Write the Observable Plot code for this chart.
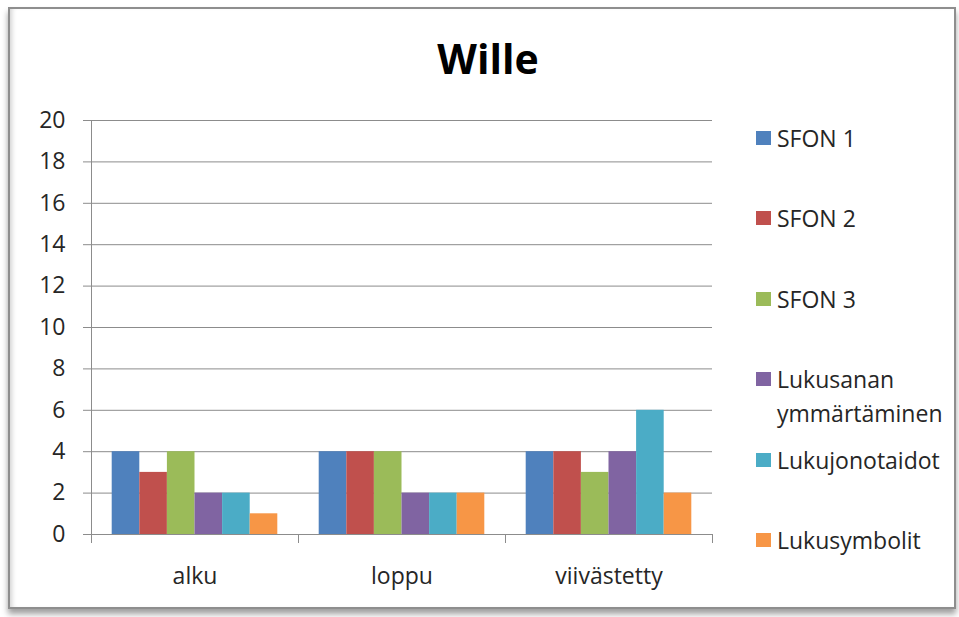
<!DOCTYPE html>
<html>
<head>
<meta charset="utf-8">
<script src="https://cdn.jsdelivr.net/npm/d3@7"></script>
<script src="https://cdn.jsdelivr.net/npm/@observablehq/plot@0.6"></script>
<style>
  html, body { margin: 0; padding: 0; background: #fff; }
  #page { position: relative; width: 959px; height: 617px; overflow: hidden; font-family: "Open Sans", sans-serif; }
  #frame {
    position: absolute; left: 8px; top: 7px; width: 944px; height: 598px;
    border: 2px solid #8e8e8e; background: #fff;
    box-shadow: 0 5px 6px rgba(0,0,0,0.38), inset 5px 0 5px -3px rgba(0,0,0,0.18);
  }
  #title {
    position: absolute; left: 0; width: 976px; top: 30px; text-align: center;
    font-family: "Open Sans", sans-serif; font-weight: 700; font-size: 41px; color: #000;
  }
  #chart { position: absolute; left: 0; top: 0; }
  #legend { position: absolute; left: 756px; top: 0; }
  .item { position: absolute; left: 0; width: 190px; display: flex; align-items: flex-start; }
  .swatch { width: 15px; height: 14px; margin-top: 10px; margin-right: 6px; flex: none; }
  .label { font-size: 23px; line-height: 34px; color: #262626; width: 170px; }
</style>
</head>
<body>
<div id="page">
  <div id="frame"></div>
  <div id="title">Wille</div>
  <div id="chart"></div>
  <div id="legend"></div>
</div>
<script>
// Phases on the horizontal axis
const categories = ["alku", "loppu", "viivästetty"];

// Series names, one bar per series in every phase
const series = ["SFON 1", "SFON 2", "SFON 3", "Lukusanan ymmärtäminen", "Lukujonotaidot", "Lukusymbolit"];

// Scores per series, in phase order
const sfon1 = [4, 4, 4];
const sfon2 = [3, 4, 4];
const sfon3 = [4, 4, 3];
const lukusanan = [2, 2, 4];
const lukujono = [2, 2, 6];
const lukusymbolit = [1, 2, 2];

const colors = ["#4F81BD", "#C0504D", "#9BBB59", "#8064A2", "#4BACC6", "#F79646"];
const yTicks = d3.range(0, 21, 2);

// Each phase spans one unit of x; bars sit side by side with a gap at both ends
const groupPad = 0.75;
const slots = series.length + 2 * groupPad;

const valueSets = [sfon1, sfon2, sfon3, lukusanan, lukujono, lukusymbolit];
const rows = [];
categories.forEach((cat, ci) => {
  series.forEach((s, si) => {
    rows.push({
      category: cat,
      series: s,
      value: valueSets[si][ci],
      x1: ci + (groupPad + si) / slots,
      x2: ci + (groupPad + si + 1) / slots
    });
  });
});

const chart = Plot.plot({
  width: 959,
  height: 617,
  marginTop: 120,
  marginBottom: 83,
  marginLeft: 91,
  marginRight: 247,
  style: { fontFamily: "Open Sans, sans-serif", fontSize: "23px", color: "#262626", background: "transparent", overflow: "visible" },
  x: { domain: [0, categories.length] },
  y: { domain: [0, 20] },
  color: { domain: series, range: colors },
  marks: [
    Plot.ruleY(yTicks, { stroke: "#8c8c8c", strokeWidth: 1 }),
    Plot.axisY({ ticks: yTicks, tickSize: 8, tickPadding: 18, stroke: "#8c8c8c", strokeOpacity: 1, label: null, fontSize: 23 }),
    Plot.axisX({ ticks: d3.range(0, categories.length + 1), tickSize: 9, tickFormat: () => "", stroke: "#8c8c8c", strokeOpacity: 1, label: null }),
    Plot.axisX({ ticks: categories.map((_, i) => i + 0.5), tickSize: 0, tickPadding: 33, tickFormat: (d) => categories[Math.floor(d)], label: null, fontSize: 23 }),
    Plot.ruleX([0], { stroke: "#8c8c8c" }),
    Plot.rectY(rows, { x1: "x1", x2: "x2", y: "value", fill: "series" })
  ]
});
document.getElementById("chart").append(chart);

// Vertical legend, colours taken from the plot's color scale
const color = chart.scale("color");
const legend = document.getElementById("legend");
series.forEach((s, i) => {
  const item = document.createElement("div");
  item.className = "item";
  item.style.top = (121 + i * 80.4) + "px";
  const sw = document.createElement("div");
  sw.className = "swatch";
  sw.style.background = color.range[color.domain.indexOf(s)];
  const label = document.createElement("div");
  label.className = "label";
  label.textContent = s;
  item.append(sw, label);
  legend.append(item);
});
</script>
</body>
</html>
